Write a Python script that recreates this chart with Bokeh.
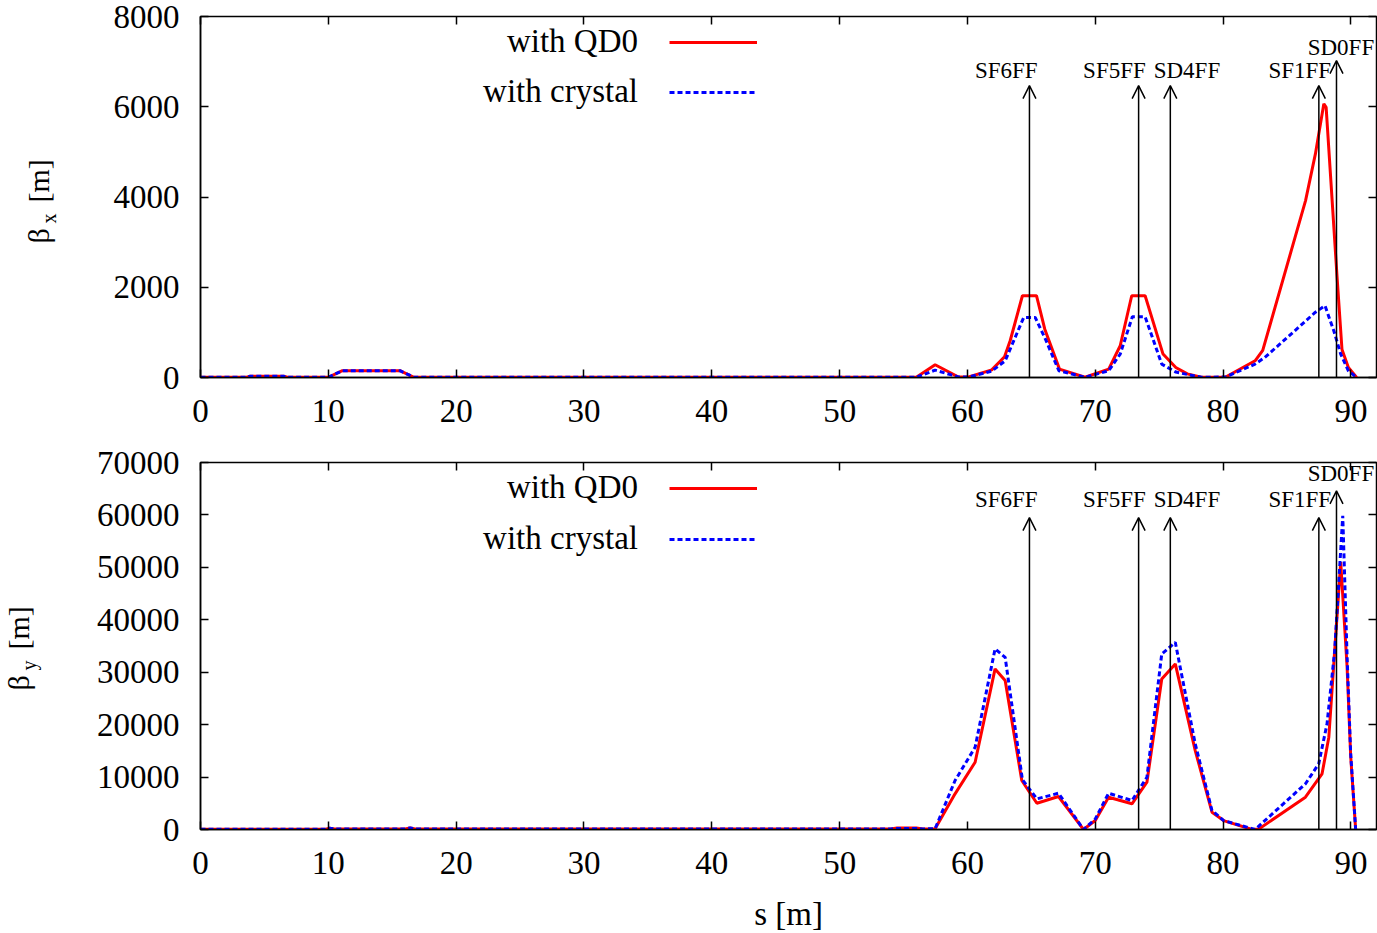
import math
from bokeh.plotting import figure
from bokeh.layouts import column, row
from bokeh.models import (Range1d, FixedTicker, LinearAxis, Label, Legend, LegendItem,
                          Arrow, OpenHead, ColumnDataSource, PrintfTickFormatter, LabelSet,
                          CustomJSTickFormatter)
from bokeh.embed import file_html
from bokeh.resources import INLINE
from bokeh.core.properties import value

FONT = "Liberation Serif"

# ---------------- data ----------------
x_ticks = [0, 10, 20, 30, 40, 50, 60, 70, 80, 90]
bx_ticks = [0, 2000, 4000, 6000, 8000]
by_ticks = [0, 10000, 20000, 30000, 40000, 50000, 60000, 70000]

# beta_x, with QD0
sx_qd0 = [0, 3.6, 3.9, 6.5, 6.8, 10.0, 11.1, 15.6, 16.7, 56.0, 57.47, 59.3, 60.1, 61.9,
          62.9, 63.34, 64.3, 65.4, 66.05, 67.2, 69.2, 71.05, 71.95, 72.85, 73.9, 75.3,
          76.3, 77.2, 78.3, 80.2, 82.5, 83.1, 86.45, 87.22, 87.88, 88.06, 88.9, 89.3,
          89.8, 90.45]
bx_qd0 = [5, 5, 30, 30, 5, 5, 150, 150, 5, 5, 282, 10, 10, 170,
          460, 814, 1812, 1812, 1070, 186, 5, 186, 703, 1812, 1812, 519,
          222, 80, 5, 10, 370, 600, 3920, 4955, 6064, 5985, 2293, 620,
          222, 0]

# beta_x, with crystal
sx_cry = [0, 3.6, 3.9, 6.5, 6.8, 10.0, 11.1, 15.6, 16.7, 56.0, 57.47, 59.3, 60.1, 61.9,
          62.95, 63.73, 64.4, 65.3, 66.1, 67.15, 69.2, 71.05, 71.95, 72.9, 73.9, 75.2,
          76.3, 78.3, 80.2, 82.5, 83.26, 85.9, 87.2, 87.97, 88.66, 89.2, 89.8, 90.45]
bx_cry = [5, 5, 30, 30, 5, 5, 150, 150, 5, 5, 164, 10, 10, 140,
          370, 887, 1331, 1331, 850, 150, 5, 150, 520, 1346, 1346, 297,
          120, 5, 10, 297, 444, 1109, 1442, 1590, 1036, 519, 148, 0]

# beta_y, with QD0
sy_qd0 = [0, 9.8, 10.1, 10.5, 16.0, 16.4, 16.8, 54.0, 54.5, 56.0, 56.5, 57.47, 59.03,
          60.6, 62.16, 62.95, 64.25, 65.43, 67.12, 69.08, 70.0, 71.04, 72.87, 74.04,
          75.2, 76.26, 77.82, 79.13, 80.04, 82.26, 82.8, 86.44, 87.74, 88.27, 89.2,
          89.7, 89.98, 90.37]
by_qd0 = [50, 50, 250, 100, 100, 300, 100, 100, 300, 300, 100, 150, 6800,
          12830, 30630, 28400, 9340, 5010, 6290, 0, 1715, 6160, 4900, 9020,
          28720, 31580, 15060, 3300, 1700, 0, 100, 6160, 10620, 17600, 51000,
          31000, 14000, 0]

# beta_y, with crystal
sy_cry = [0, 9.8, 10.1, 10.5, 16.0, 16.4, 16.8, 54.0, 54.5, 56.0, 56.5, 57.47, 59.03,
          60.6, 62.16, 62.95, 64.3, 65.43, 67.12, 69.08, 70.0, 71.04, 72.87, 74.04,
          75.2, 76.26, 77.82, 79.13, 80.04, 82.5, 86.44, 87.48, 88.13, 88.73, 89.36,
          89.7, 89.98, 90.37]
by_cry = [50, 50, 250, 100, 100, 300, 100, 100, 200, 200, 100, 150, 9340,
          15690, 34440, 32840, 9500, 5850, 6920, 0, 2000, 6920, 5530, 9970,
          33490, 35700, 16330, 3620, 1700, 0, 8710, 12520, 20150, 34120, 59850,
          33000, 14500, 0]

# sextupole markers
mark_names = ["SF6FF", "SF5FF", "SD4FF", "SF1FF", "SD0FF"]
mark_s = [64.85, 73.39, 75.87, 87.49, 88.87]
mark_tip_x = [6470, 6470, 6470, 6470, 7024]
mark_tip_y = [59500, 59500, 59500, 59500, 64600]
mark_lab_s = [63.04, 71.5, 77.17, 86.0, 89.22]
mark_lab_x = [6802, 6802, 6802, 6802, 7305]
mark_lab_y = [63030, 63030, 63030, 63030, 67900]

legend_names = ["with QD0", "with crystal"]

LEFT_W = 85          # width of the strip holding the rotated y titles
MAIN_BORDER = 115    # left border of the plots (tick labels)
MAIN_W = 1377 - LEFT_W
H1, TOP1, BOT1 = 444, 16, 67
H2, TOP2, BOT2 = 495, 18, 110


def ylabel_fig(height, mb_top, mb_bot, page_top, sub, pos):
    """Narrow figure holding the rotated axis title 'beta_sub [m]'.
    Its frame is aligned with the neighbouring plot frame; y is minus page-y."""
    f_top = page_top + mb_top
    f_bot = page_top + height - mb_bot
    f = figure(width=LEFT_W, height=height, x_range=Range1d(0, LEFT_W),
               y_range=Range1d(-f_bot, -f_top), output_backend="svg", toolbar_location=None,
               x_axis_type=None, y_axis_type=None, min_border_left=0, min_border_right=0,
               min_border_top=mb_top, min_border_bottom=mb_bot)
    f.grid.visible = False
    f.outline_line_color = None
    xm, xs, yb, ys, ym = pos
    f.add_layout(Label(x=xm, y=-yb, text="β", angle=math.pi / 2, text_align="left",
                       text_baseline="middle", text_font=FONT, text_font_size="30px",
                       text_color="black"))
    f.add_layout(Label(x=xs, y=-ys, text=sub, angle=math.pi / 2, text_align="left",
                       text_baseline="middle", text_font=FONT, text_font_size="20px",
                       text_color="black"))
    f.add_layout(Label(x=xm, y=-ym, text="[m]", angle=math.pi / 2, text_align="left",
                       text_baseline="middle", text_font=FONT, text_font_size="30px",
                       text_color="black"))
    return f


def make_panel(sa, ya, sb, yb, ymax, yticks, tips, lab_y, height, mb_top, mb_bottom,
               leg_y, leg_rows, leg_spacing, xlabel=None):
    p = figure(width=MAIN_W, height=height, x_range=Range1d(0, 92), y_range=Range1d(0, ymax),
               output_backend="svg", toolbar_location=None,
               min_border_left=MAIN_BORDER, min_border_right=1, min_border_top=mb_top,
               min_border_bottom=mb_bottom)
    p.grid.visible = False
    p.outline_line_color = "black"
    p.outline_line_width = 1.5

    for ax, ticks in ((p.xaxis[0], x_ticks), (p.yaxis[0], yticks)):
        ax.ticker = FixedTicker(ticks=ticks)
        ax.formatter = PrintfTickFormatter(format="%d")
        ax.major_tick_in = 8
        ax.major_tick_out = 0
        ax.minor_tick_line_color = None
        ax.major_tick_line_color = "black"
        ax.major_tick_line_width = 1.5
        ax.axis_line_color = "black"
        ax.axis_line_width = 1.5
        ax.major_label_text_font = FONT
        ax.major_label_text_font_size = "33px"
        ax.major_label_text_color = "black"
    p.xaxis[0].major_label_standoff = 22
    p.yaxis[0].major_label_standoff = 21
    if xlabel:
        p.xaxis[0].axis_label = xlabel
        p.xaxis[0].axis_label_text_font = FONT
        p.xaxis[0].axis_label_text_font_size = "33px"
        p.xaxis[0].axis_label_text_font_style = "normal"
        p.xaxis[0].axis_label_text_color = "black"
        p.xaxis[0].axis_label_standoff = 19

    # mirrored ticks on top and right
    for side, ticks in (("above", x_ticks), ("right", yticks)):
        ax = LinearAxis(ticker=FixedTicker(ticks=ticks), major_tick_in=8, major_tick_out=0,
                        minor_tick_line_color=None, axis_line_color=None,
                        major_tick_line_width=1.5,
                        formatter=CustomJSTickFormatter(code="return ''"),
                        major_label_text_font_size="1px", major_label_standoff=0)
        p.add_layout(ax, side)

    r1 = p.line(sa, ya, line_color="#ff0000", line_width=3)
    r2 = p.line(sb, yb, line_color="#0000ff", line_width=3, line_dash="5 3")

    # markers
    src = ColumnDataSource(dict(s=mark_s, y0=[0] * len(mark_s), tip=tips))
    p.add_layout(Arrow(end=OpenHead(size=13, line_width=1.5, line_color="black"),
                       x_start="s", y_start="y0", x_end="s", y_end="tip",
                       line_width=1.5, line_color="black", source=src))
    lsrc = ColumnDataSource(dict(x=mark_lab_s, y=lab_y, t=mark_names))
    p.add_layout(LabelSet(x="x", y="y", text="t", source=lsrc, text_align="center",
                          text_baseline="middle", text_font=value(FONT),
                          text_font_size=value("23px"), text_color=value("black")))

    # legend: text on the left (labels), line samples on the right (legend glyphs)
    leg = Legend(items=[LegendItem(label=" ", renderers=[r1]),
                        LegendItem(label=" ", renderers=[r2])],
                 location=(468.5, leg_y), glyph_width=88, glyph_height=30,
                 label_width=0, label_height=0, label_standoff=0,
                 label_text_font_size="1px", spacing=leg_spacing, padding=0, margin=0,
                 border_line_color=None, background_fill_alpha=0)
    p.add_layout(leg, "center")
    for name, yy in zip(legend_names, leg_rows):
        p.add_layout(Label(x=437.5, y=yy, x_units="screen", y_units="screen", text=name,
                           text_align="right", text_baseline="middle", text_font=FONT,
                           text_font_size="33px", text_color="black"))
    return p


p1 = make_panel(sx_qd0, bx_qd0, sx_cry, bx_cry, 8000, bx_ticks, mark_tip_x, mark_lab_x,
                H1, TOP1, BOT1, 270, [337, 287], 20)
p2 = make_panel(sy_qd0, by_qd0, sy_cry, by_cry, 70000, by_ticks, mark_tip_y, mark_lab_y,
                H2, TOP2, BOT2, 275, [343, 292], 21, xlabel="s [m]")

# (x of beta, x of subscript, page-y start of beta, of subscript, of [m])
l1 = ylabel_fig(H1, TOP1, BOT1, 0, "x", (38, 48, 243, 223, 202))
l2 = ylabel_fig(H2, TOP2, BOT2, H1, "y", (18, 28, 690, 670, 649))

layout = column(row(l1, p1), row(l2, p2))
open("out.html", "w").write(file_html(layout, INLINE))
